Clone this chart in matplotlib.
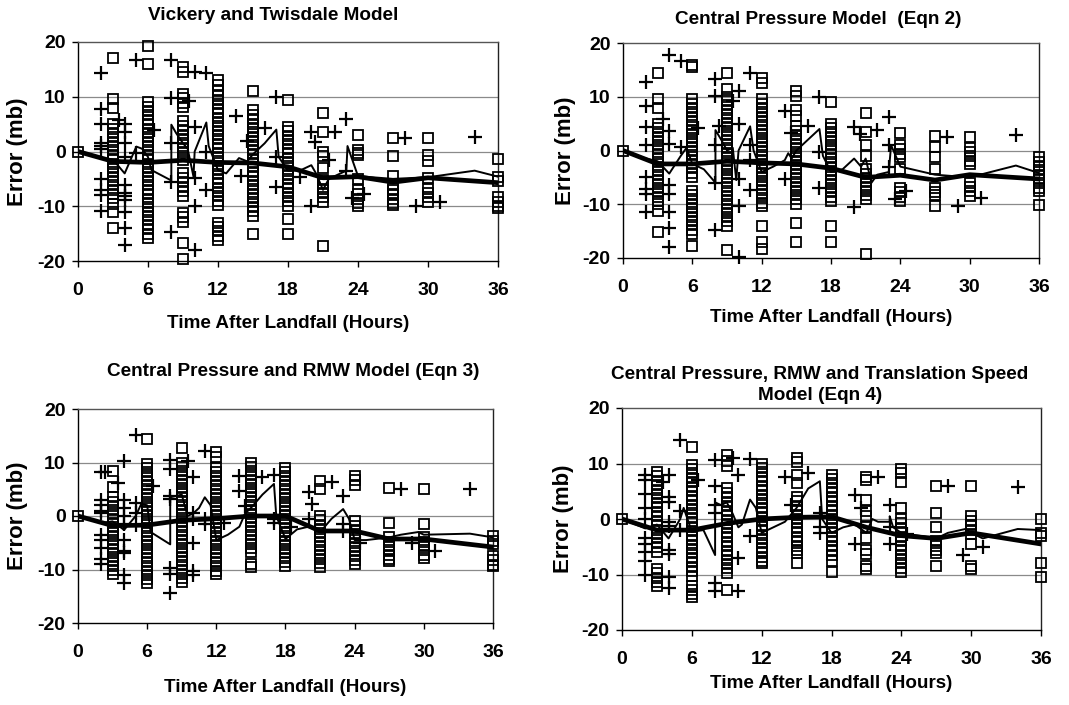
import matplotlib
matplotlib.use("Agg")
import matplotlib.pyplot as plt

plt.rcParams['font.family'] = ['Liberation Sans', 'DejaVu Sans']
plt.rcParams['font.weight'] = 'bold'
plt.rcParams['axes.unicode_minus'] = False

titles = ["Vickery and Twisdale Model",
          "Central Pressure Model  (Eqn 2)",
          "Central Pressure and RMW Model (Eqn 3)",
          "Central Pressure, RMW and Translation Speed\nModel (Eqn 4)"]
x_ticks = [0, 6, 12, 18, 24, 30, 36]
y_ticks = [-20, -10, 0, 10, 20]
x_label = "Time After Landfall (Hours)"
y_label = "Error (mb)"

sq_hours = [0, 3, 6, 9, 12, 15, 18, 21, 24, 27, 30, 36]
mean_hours = [0, 3, 6, 9, 12, 15, 18, 21, 24, 27, 30, 36]

# ---------------- Panel 1: Vickery and Twisdale ----------------
vt_sq = [
    [0],
    [17, 9.5, 8, 5, 4.2, 3.4, 2.6, 1.8, 1, 0.2, -0.6, -1.4, -2.2, -3, -3.8, -4.6, -5.4, -6.2, -7, -7.8, -8.5, -9.5, -11, -14],
    [19.3, 16, 9, 8.2, 7.4, 6.6, 5.8, 5, 4.2, 3.4, 2.6, 1.8, 1, 0.2, -0.6, -1.4, -2.2, -3, -3.8, -4.6, -5.4, -6.2, -7, -7.8, -8.6, -9.4, -10.2, -11, -11.8, -12.6, -13.4, -14.2, -15, -15.8],
    [15.5, 14.5, 10.5, 9.7, 8.9, 8.2, 5.5, 4.7, 3.9, 3.1, 2.3, 1.5, 0.7, -0.1, -0.9, -1.5, -4, -4.8, -5.6, -6.4, -7.2, -8.2, -11.2, -12, -12.8, -16.8, -19.7],
    [13, 12.2, 11, 10.2, 9.4, 8.6, 7.8, 7, 6.2, 5.4, 4.6, 3.8, 3, 2.2, 1.4, 0.6, -0.2, -1, -1.8, -2.6, -3.4, -4.2, -5, -5.8, -6.6, -7.4, -8.2, -9, -9.8, -13, -13.8, -14.6, -15.4, -16.2],
    [11, 7.5, 6.7, 5.9, 5.1, 4.3, 3.5, 2.7, 1.9, 1.1, 0.3, -0.5, -1.3, -2.1, -2.9, -3.7, -4.5, -5.3, -6.1, -6.9, -7.7, -8.5, -9.3, -10.1, -10.9, -11.7, -15],
    [9.4, 4.5, 3.7, 2.9, 2.1, 1.3, 0.5, -0.3, -1.1, -1.9, -2.7, -3.5, -4.3, -5.1, -5.9, -6.7, -7.5, -8.3, -9.1, -9.9, -12.4, -15],
    [7, 3.5, 0, -0.8, -3, -5.2, -6, -6.8, -7.6, -8.4, -9.2, -17.3],
    [3, 0.3, -0.3, -0.7, -5, -7, -7.8, -8.6, -9.4, -10],
    [2.5, -0.8, -4.5, -6.2, -7, -7.8, -8.6, -9.4, -9.8],
    [2.5, -0.7, -1.7, -4.8, -6.8, -7.6, -8.4, -9.2],
    [-1.3, -4.6, -5.4, -8.4, -9.2, -10, -10.4],
]
vt_plus_hours = [2, 3.5, 4, 5, 6.5, 8, 9.5, 10, 11, 13.5, 14, 14.5, 16, 17, 19, 20, 20.3, 21.5, 22, 23, 23.5, 24.5, 28, 29, 31, 34]
vt_plus = [
    [14.3, 7.7, 5, 1.5, 1, 0.5, -5, -7, -8, -10.8], [5.8],
    [5, 3.5, 1.5, -1, -6.2, -7.6, -8.2, -8.8, -11, -14, -17], [16.7, -0.3], [4],
    [16.7, 9.8, 1.5, -5.5, -14.7], [9.3], [14.5, 4.5, -4.8, -10, -18], [14.3, 0, -7],
    [6.5], [-4.5], [2], [4.3], [10, -1, -6.5], [-4.6], [3.5, -10], [1.8], [-1.5], [3.5],
    [6, -3.5], [-8.5], [-7.8], [2.5], [-10], [-9.2], [2.7],
]
vt_thin_x = [0, 2, 3, 4, 5, 5.5, 6, 6.3, 8, 8, 8.4, 9, 9.4, 9.9, 10, 11, 11.2, 12, 12.7, 13.8, 14.5, 15, 16, 17, 17.2, 18, 19, 20, 20.4, 21, 21.5, 22, 23, 23.1, 24, 27, 30, 34, 36]
vt_thin_y = [0, -1.2, -1.5, -4, 0.9, 0.5, -1, -3.4, -5.3, 4.9, 3.4, 1.5, 0.5, -4.6, 0, 5.3, 1, -3.4, -4, -1.2, -1.8, -0.5, 1.5, 4, -1, -3.5, -3.5, -2.5, -4, -7, -5, -4.5, -3.5, 1, -4.5, -5, -4.7, -3.5, -4.6]
vt_mean = [0, -1.8, -2, -1.6, -2, -2.1, -2.8, -4.8, -4.6, -5.6, -4.8, -5.7]

# ---------------- Panel 2: Central Pressure (Eqn 2) ----------------
cp_sq = [
    [0],
    [14.5, 9.5, 8, 5, 4.2, 3.4, 2.6, 1.8, 1, 0.2, -0.6, -1.4, -2.2, -3, -3.8, -4.6, -5.4, -6.2, -7, -7.8, -8.6, -9.4, -10, -11.3, -15.2],
    [16, 15.6, 9.5, 8.7, 7.9, 7.1, 6.3, 5.5, 4.7, 3.9, 3.1, 2.3, 1.5, 0.7, -0.1, -0.9, -1.7, -2.5, -3.3, -4.1, -4.9, -7.5, -8.3, -9.1, -9.9, -10.7, -11.5, -12.3, -13.1, -13.9, -14.7, -15.5, -17.8],
    [14.5, 11.5, 10, 9.2, 8.4, 7.6, 6.8, 6, 5.2, 4.4, 3.6, 2.8, 2, 1.2, 0.4, -0.4, -1.2, -2, -2.8, -3.6, -4.4, -5.2, -6, -6.8, -7.6, -8.4, -9.2, -10, -10.8, -11.6, -12.4, -13.2, -14, -18.5],
    [13.5, 12.5, 9.5, 8.7, 7.9, 7.1, 6.3, 5.5, 4.7, 3.9, 3.1, 2.3, 1.5, 0.7, -0.1, -0.9, -1.7, -2.5, -3.3, -4.1, -4.9, -5.7, -6.5, -7.3, -8.1, -8.9, -9.7, -10.4, -14, -17, -18.3],
    [11, 10.2, 7.5, 6.5, 4.5, 3.7, 2.9, 2.1, 1.3, 0.5, -0.3, -1.1, -1.9, -2.7, -3.5, -4.3, -5.1, -5.9, -6.7, -7.5, -8.3, -9.1, -9.9, -13.5, -17],
    [9, 5, 4.2, 3.4, 2.6, 1.8, 1, 0.2, -0.6, -1.4, -2.2, -3, -3.8, -4.6, -5.4, -6.2, -7, -7.8, -8.6, -9.4, -14, -17],
    [7, 3.5, 1, -1, -3.5, -4.3, -5.1, -5.9, -6.7, -7.5, -8.3, -9, -19.3],
    [3.2, 1, 0.2, -0.6, -1.2, -3.5, -7, -7.8, -8.6, -9.4],
    [2.7, 0.7, -1.3, -3.5, -7, -7.7, -8.2, -10.3],
    [2.5, 0.5, -0.3, -1.1, -1.9, -2.6, -6, -6.8, -7.6, -8.4],
    [-1.3, -2.1, -2.9, -3.7, -4.5, -5.3, -6.1, -6.9, -7.5, -10.2],
]
cp_plus_hours = [2, 3.5, 4, 5, 6.5, 8, 8.3, 9.5, 10, 11, 14, 14.5, 16, 17, 20, 20.5, 22, 23, 23.5, 24.5, 28, 29, 31, 34]
cp_plus = [
    [12.8, 8.2, 4.3, 1, -5, -7.2, -8, -11.5], [5.8],
    [17.8, 3.7, 1.2, -6.5, -8, -11.5, -14.5, -18], [16.7, 0.7], [4.2],
    [13.3, 10.2, 1, -6, -14.7], [4.5], [9.2], [11, 5, -5.3, -10.3, -19.8],
    [14.5, 1, -1.8, -7.3], [7.3, -5.3], [3.2], [4.5], [10, -0.3, -7], [4.3, -10.6],
    [3], [3.8], [6.3, 1, -3], [-9], [-7.5], [2.6], [-10.3], [-8.8], [2.8],
]
cp_thin_x = [0, 2, 3, 4, 5, 5.5, 6, 7, 8, 8, 8.5, 9, 9.5, 9.8, 10, 11, 11.3, 12, 13, 14, 14.3, 14.6, 15, 17, 17.3, 18, 19, 20, 20.6, 21, 21.5, 22, 23, 23.2, 24, 27, 30, 34, 36]
cp_thin_y = [0, -1.5, -2, -4.3, -1, 0.5, -2.5, -3.5, -6, 3.8, 2, 0, 0.5, -5.5, 0, 4.5, 0, -4, -3, -1.8, -0.5, -1.5, 0, 4, -1, -4, -3.5, -1.5, -3, -1.5, -6, -4.5, -4, 1, -3, -4.5, -5, -2.8, -4.2]
cp_mean = [0, -2.5, -2.5, -2, -2.3, -2.5, -3.3, -5, -4.6, -5.5, -4.5, -5.3]

# ---------------- Panel 3: Central Pressure and RMW (Eqn 3) ----------------
rm_sq = [
    [0],
    [8.5, 5.5, 3.5, 2.7, 1.9, 1.1, 0.3, -0.5, -1.3, -2.1, -2.9, -3.7, -4.5, -5.3, -6.1, -6.9, -7.7, -8.5, -9.3, -10.1, -10.8],
    [14.3, 9.8, 9, 8.2, 7.4, 6.6, 5.8, 5, 4.2, 3.4, 2.6, 1.8, 1, 0.2, -0.6, -1.4, -2.2, -3, -3.8, -4.6, -5.4, -6.2, -7, -7.8, -8.6, -9.4, -10.2, -11, -11.8, -12.6],
    [12.7, 10, 9.2, 8.4, 7.6, 6.8, 6, 5.2, 4.4, 3.6, 2.8, 2, 1.2, 0.4, -0.4, -1.2, -2, -2.8, -3.6, -4.4, -5.2, -6, -6.8, -7.6, -8.4, -9.2, -10, -10.8, -11.6, -12.3],
    [12, 11, 9, 8.2, 7.4, 6.6, 5.8, 5, 4.2, 3.4, 2.6, 1.8, 1, 0.2, -0.6, -1.4, -2.2, -3, -3.8, -4.6, -5.4, -6.2, -7, -7.8, -8.6, -9.4, -10.2, -10.8],
    [10, 9.2, 8.4, 7.6, 6.8, 6, 5.2, 4.4, 3.6, 2.8, 2, 1.2, 0.4, -0.4, -1.2, -2, -2.8, -3.6, -4.4, -5.2, -6, -6.8, -9, -9.6],
    [9, 8.2, 7.4, 6.6, 5.8, 5, 4.2, 3.4, 2.6, 1.8, 1, 0.2, -0.6, -1.4, -2.2, -3, -3.8, -4.6, -5.4, -6.2, -7, -7.8, -8.6, -9.3],
    [6.5, 5, 0, -0.8, -1.6, -2.4, -3.2, -4, -4.8, -5.6, -6.4, -7.2, -8, -8.8, -9.6],
    [7.5, 6.7, 5.8, -1, -1.8, -2.6, -3.4, -4.2, -5, -5.8, -6.6, -7.4, -8.2, -8.9],
    [5.2, -1.3, -4, -4.8, -5.6, -6.4, -7.2, -8, -8.5],
    [5, -1.5, -4, -4.8, -5.6, -6.4, -7.2, -7.8],
    [-3.8, -4.6, -5.3, -7.5, -8.3, -9.1, -9.4],
]
rm_plus_hours = [2, 2.3, 3.5, 4, 5, 6.5, 8, 9.5, 10, 11, 12.7, 14, 14.5, 16, 17, 18.5, 20, 20.3, 22, 23, 24.5, 28, 29, 31, 34]
rm_plus = [
    [8.2, 3, 2, 1, 0.5, -3.5, -4.5, -6, -8, -9], [8.2], [6.2],
    [10.3, 3, 1.5, 0, -1.5, -4.5, -6.5, -7, -11, -12.5], [15.2, 2.5, 0.5, -1.7], [5.7],
    [10.5, 8.8, 3.7, 3.2, -9.8, -10.8, -14.3], [10.2], [7.2, 0.5, -0.5, -5, -10.3, -11],
    [12.2, -0.5, -1.5], [-1.3], [7.5, 4.7], [1.8], [7.3], [7.7, -0.5, -1.3], [-2],
    [4.5, -0.5], [2.3], [6.3], [3.8, -1.5, -2.8], [-5], [5], [-5], [-6.5], [5],
]
rm_thin_x = [0, 2, 3, 4, 5, 5.5, 6, 6.3, 8, 8, 9, 9.5, 10, 10.5, 11, 11.5, 12, 13, 14, 14.5, 15, 16, 17, 17.2, 18, 19, 20, 21, 22, 23, 23.5, 24, 25, 27, 28, 29.5, 30, 34, 36]
rm_thin_y = [0, -1.3, -1, -2.6, 0, 2.3, 2, -3, -5.3, 3.5, 4, 0, 0.5, 1.5, 3.5, 2, -4.5, -3.5, -2, 0.5, 1.5, 4, 6, 0, -4.3, -2.5, -2, -3, -0.5, 1.3, -0.5, -4.5, -4.5, -4, -3.5, -3, -3.5, -3.3, -4]
rm_mean = [0, -1.8, -1.7, -0.8, -0.5, 0, 0, -2.8, -2.8, -4.3, -4.3, -5.8]

# ---------------- Panel 4: CP, RMW and Translation Speed (Eqn 4) ----------------
ts_sq = [
    [0],
    [8.5, 7.7, 6.9, 6.1, 5.3, 4.5, 3.7, 2.9, 2.1, 1.3, 0.5, -0.3, -1.1, -1.9, -2.7, -3.5, -4.3, -5.1, -5.9, -9, -9.8, -10.6, -11.4, -12],
    [13, 9.8, 9, 8.2, 7.4, 6.6, 5.8, 5, 4.2, 3.4, 2.6, 1.8, 1, 0.2, -0.6, -1.4, -2.2, -3, -3.8, -4.6, -5.4, -6.2, -7, -7.8, -8.6, -9.4, -10.2, -12, -12.8, -13.6, -14.1],
    [11.5, 10.5, 9.5, 5.5, 4.7, 3.9, 3.1, 2.3, 1.5, 0.7, -0.1, -0.9, -1.7, -2.5, -3.3, -4.1, -4.9, -5.7, -6.5, -7.3, -8.1, -8.9, -9.7, -12.8],
    [10, 9.2, 8.4, 7.6, 6.8, 6, 5.2, 4.4, 3.6, 2.8, 2, 1.2, 0.4, -0.4, -1.2, -2, -2.8, -3.6, -4.4, -5.2, -6, -6.8, -7.6, -8],
    [11, 10.2, 8, 6.5, 4, 3.2, 2.4, 1.6, 0.8, 0, -0.8, -1.6, -2.4, -3.2, -4, -4.8, -5.6, -6.2, -8],
    [8, 7.2, 6.4, 5.6, 4.8, 4, 3.2, 2.4, 1.6, 0.8, 0, -0.8, -1.6, -2.4, -3.2, -4, -4.8, -5.6, -6.4, -7.5, -9.5],
    [7.5, 7, 3.5, 1.5, 0.5, -1.5, -3.5, -5.5, -6.3, -8.5, -9],
    [9, 8.2, 6.7, 2, 0, -0.8, -1.6, -2.4, -3.2, -4, -4.8, -5.6, -6.4, -7.2, -8, -8.8, -9.5],
    [6, 1, -1.5, -4, -4.8, -5.6, -6.2, -8.5],
    [6, 0.5, -0.3, -1.1, -1.9, -2.7, -4.5, -8.5, -9],
    [0, -2.5, -3, -8, -10.5],
]
ts_plus_hours = [2, 3.5, 4, 5, 6.5, 8, 9.5, 10, 11, 14, 14.5, 16, 17, 20, 20.5, 22, 23, 24.5, 28, 29.3, 31, 34]
ts_plus = [
    [8, 7, 4.5, 2, 0, -3.5, -4.5, -6, -7.5, -10], [6.7],
    [8, 4, 3, -0.5, -1.2, -5.5, -6.3, -10.5, -12.5], [14.3, 1.5, -2], [7],
    [10.7, 6, 2.5, 1, -11.5, -13], [11], [8, -7, -13], [10.8, -3], [7.5], [2.5], [8.3],
    [1, -1.5, -2.5], [4.3, -4.5], [2], [7.5], [2.5, -1.5, -4.5], [-2.7], [6], [-6.5], [-5], [5.8],
]
ts_thin_x = [0, 2, 3, 4, 5, 5.3, 6, 7, 8, 8, 8.5, 9, 9.5, 10, 10.3, 11, 11.5, 12, 13, 14, 15, 16, 17, 17.2, 18, 19, 20, 21, 21.5, 22, 23, 23, 23.3, 24, 27, 28, 29.5, 30, 31, 34, 36]
ts_thin_y = [0, -1.7, -1, -3.5, 0, 2, -2.3, -2, -6.5, 3, 2.5, 3, 1, -1.5, -1, 3.5, 2, -2.5, -1.5, -0.5, 2, 5.5, 6.8, 0, -2.5, -1.5, -1, -2.5, 0, -0.5, -0.5, 0.5, -1.5, -2.5, -3.5, -2.5, -1.8, -2.5, -3.5, -1.8, -2]
ts_mean = [0, -2, -2, -0.8, 0, 0.3, 0.4, -1.5, -3, -3.5, -2.5, -4.5]

panels = [
    (vt_sq, vt_plus_hours, vt_plus, vt_thin_x, vt_thin_y, vt_mean),
    (cp_sq, cp_plus_hours, cp_plus, cp_thin_x, cp_thin_y, cp_mean),
    (rm_sq, rm_plus_hours, rm_plus, rm_thin_x, rm_thin_y, rm_mean),
    (ts_sq, ts_plus_hours, ts_plus, ts_thin_x, ts_thin_y, ts_mean),
]

W, H = 1069, 705
fig = plt.figure(figsize=(W / 100, H / 100), dpi=100)

# axes boxes in pixels: left, right, top, bottom
boxes = [(78, 498, 42, 261), (623, 1039, 43, 258), (78, 493, 409, 623), (622, 1041, 408, 630)]
title_pos = [(273, 15), (818, 19), (293, 372), (820, 385)]
ylabel_x = [18, 565, 18, 563]
xlabel_y = [323, 318, 687, 683]

for i, (sq, ph, pv, tx, ty, mean) in enumerate(panels):
    l, r, t, b = boxes[i]
    ax = fig.add_axes([l / W, (H - b) / H, (r - l) / W, (b - t) / H])
    for h, vals in zip(sq_hours, sq):
        ax.plot([h] * len(vals), vals, linestyle='none', marker='s', markersize=7.3,
                markerfacecolor='none', markeredgecolor='black', markeredgewidth=1.3,
                zorder=3, clip_on=False)
    for h, vals in zip(ph, pv):
        ax.plot([h] * len(vals), vals, linestyle='none', marker='+', markersize=10,
                markeredgecolor='black', markeredgewidth=1.6, zorder=3, clip_on=False)
    ax.plot(tx, ty, color='black', linewidth=1.4, zorder=4)
    ax.plot(mean_hours, mean, color='black', linewidth=3.4, zorder=5, solid_joinstyle='round')

    ax.set_xlim(0, 36)
    ax.set_ylim(-20, 20)
    ax.set_xticks(x_ticks)
    ax.set_yticks(y_ticks)
    ax.tick_params(axis='both', direction='out', length=4, width=1, labelsize=14)
    ax.tick_params(axis='x', pad=11)
    ax.tick_params(axis='y', pad=5)
    for lab in ax.get_xticklabels() + ax.get_yticklabels():
        lab.set_fontweight('bold')
    for yv in [-10, 0, 10]:
        ax.axhline(yv, color='#8a8a8a', linewidth=0.9, zorder=1)
    ax.spines['left'].set_color('black')
    ax.spines['bottom'].set_color('black')
    ax.spines['top'].set_color('#555555')
    ax.spines['right'].set_color('#222222')
    for s in ax.spines.values():
        s.set_linewidth(1.0)

    tx_, ty_ = title_pos[i]
    fig.text(tx_ / W, 1 - ty_ / H, titles[i], ha='center', va='center',
             fontsize=13.7, fontweight='bold', linespacing=1.3)
    fig.text(ylabel_x[i] / W, 1 - ((t + b) / 2) / H, y_label, rotation=90,
             ha='center', va='center', fontsize=16, fontweight='bold')
    fig.text(((l + r) / 2) / W, 1 - xlabel_y[i] / H, x_label, ha='center', va='center',
             fontsize=13.6, fontweight='bold')

fig.savefig("out.png", dpi=100)
